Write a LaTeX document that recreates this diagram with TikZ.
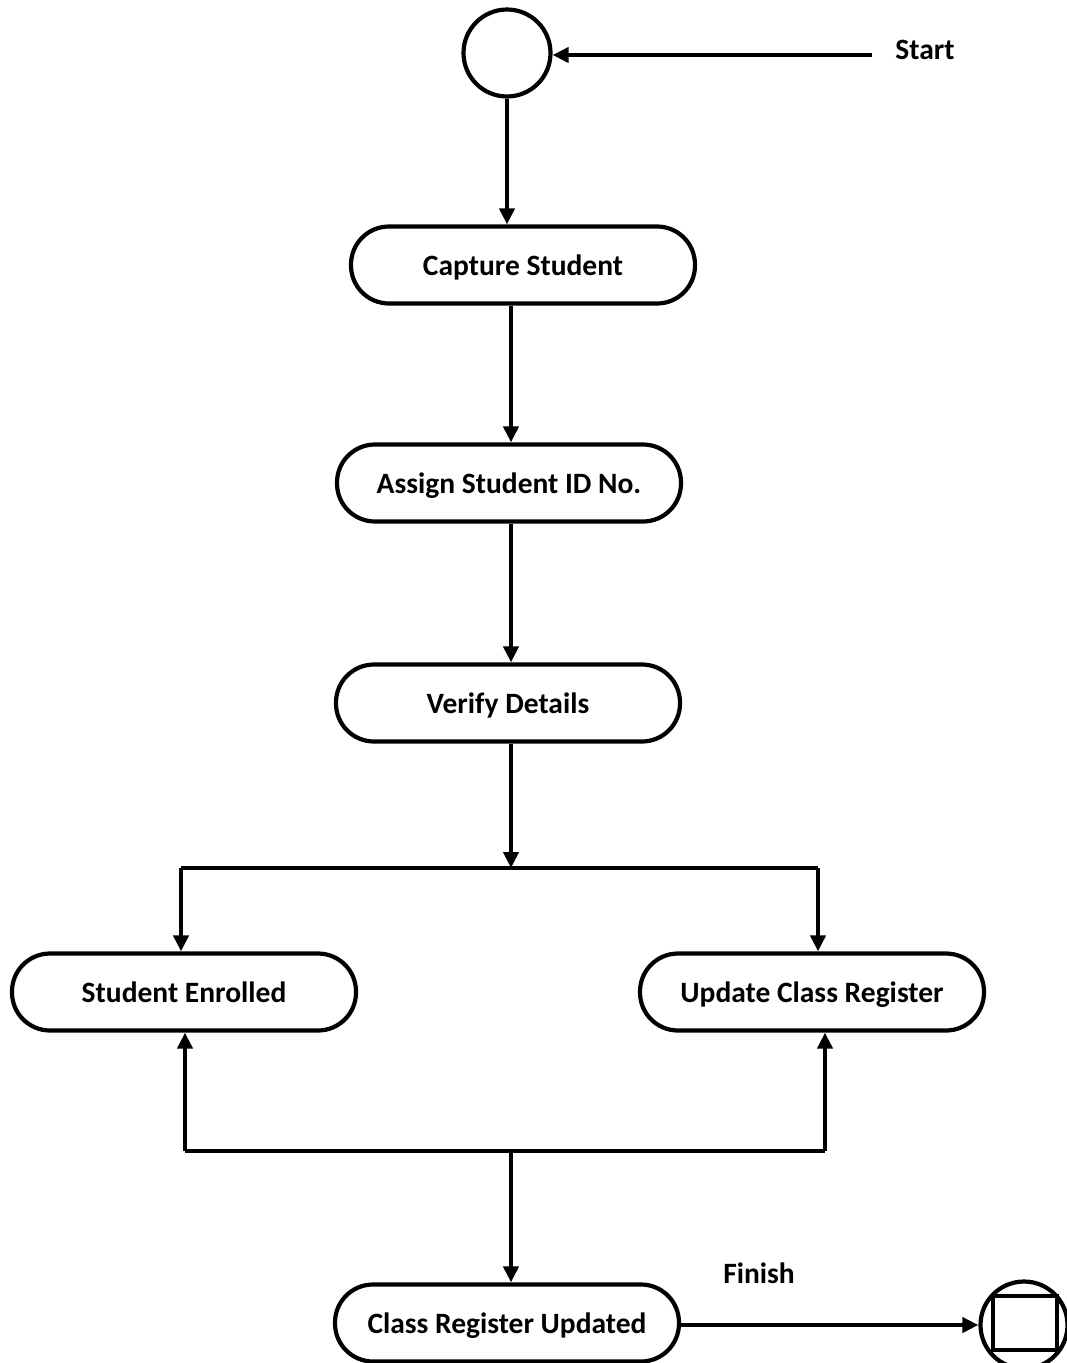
\documentclass[tikz,border=0pt]{standalone}
\usepackage{fontspec}
\setmainfont{Carlito}
\usetikzlibrary{arrows.meta,calc}

\tikzset{
  flow/.style={line width=4.2pt, line join=miter},
  tip/.style={flow, -{Triangle[length=16pt,width=15pt]}},
  activity/.style={draw, line width=4.2pt, rounded corners=38pt,
    minimum width=344pt, minimum height=77pt, inner sep=0pt,
    text height=27pt, text depth=6pt,
    font=\fontsize{29.5}{35}\selectfont\bfseries},
  terminal/.style={draw, circle, line width=4.2pt, minimum size=87pt, inner sep=0pt},
  caption/.style={font=\fontsize{29.5}{35}\selectfont\bfseries, inner sep=0pt}
}

\begin{document}
\begin{tikzpicture}[x=1pt, y=-1pt]
  \useasboundingbox (0,0) rectangle (1067,1363);

  % start state and activities
  \node[terminal] (start) at (507,53) {};
  \node[caption] (startlbl) at (925,50) {Start};
  \coordinate (startfeed) at (872,55);

  \node[activity] (capture)  at (523,265)  {Capture Student};
  \node[activity] (assign)   at (509,483)  {Assign Student ID No.};
  \node[activity] (verify)   at (508,703)  {Verify Details};
  \node[activity] (enrolled) at (184,992)  {Student Enrolled};
  \node[activity] (update)   at (812,992)  {Update Class Register};
  \node[activity] (classupd) at (507,1323) {Class Register Updated};

  % final state
  \node[terminal] (final) at (1024,1325) {};
  \node[draw, line width=4.2pt, minimum width=64pt, minimum height=54pt, inner sep=0pt]
    (finalbox) at (1025,1323) {};
  \node[caption] (finishlbl) at (759,1273) {Finish};

  % junction points
  \coordinate (trunk)  at (511,0);
  \coordinate (fork)   at (511,868);
  \coordinate (forkL)  at (181,868);
  \coordinate (forkR)  at (818,868);
  \coordinate (join)   at (511,1151);
  \coordinate (joinL)  at (185,1151);
  \coordinate (joinR)  at (825,1151);

  % connectors
  \draw[tip] (startfeed) -- (startfeed -| start.east);
  \draw[tip] (start.south) -- (start.south |- capture.north);
  \draw[tip] (trunk |- capture.south) -- (trunk |- assign.north);
  \draw[tip] (trunk |- assign.south) -- (trunk |- verify.north);
  \draw[tip] (trunk |- verify.south) -- (fork);

  \draw[flow] (forkL) -- (forkR);
  \draw[tip] (forkL) -- (forkL |- enrolled.north);
  \draw[tip] (forkR) -- (forkR |- update.north);

  \draw[flow] (joinL) -- (joinR);
  \draw[tip] (joinL) -- (joinL |- enrolled.south);
  \draw[tip] (joinR) -- (joinR |- update.south);
  \draw[tip] (join) -- (join |- classupd.north);

  \draw[tip] (classupd.east |- final) -- (final);
\end{tikzpicture}
\end{document}
